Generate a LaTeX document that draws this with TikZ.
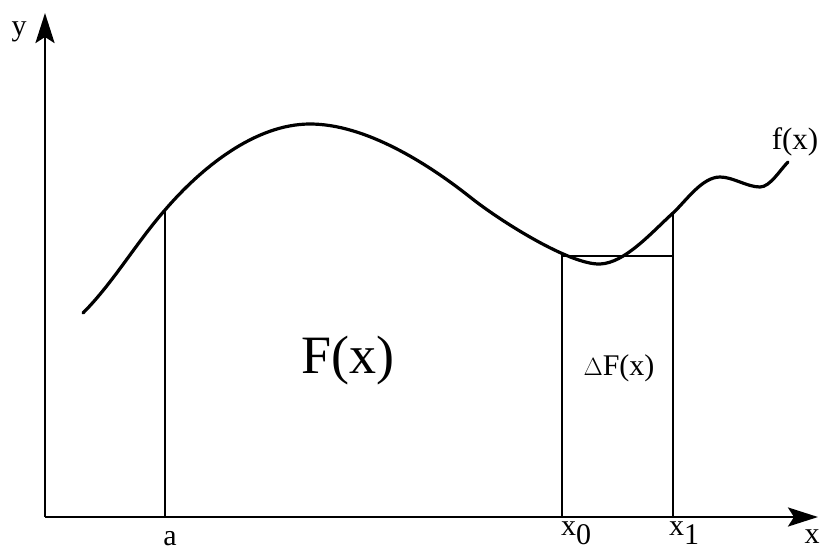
\documentclass[tikz,border=0pt]{standalone}
\usepackage{fontspec}
\setmainfont{Liberation Serif}
\usetikzlibrary{arrows.meta,positioning,calc}
\definecolor{inkBlack}{RGB}{0, 0, 0}

\tikzset{
  axisline/.style={draw=inkBlack, line width=2.8pt, -{Stealth[length=30pt, width=19pt, inset=6pt]}},
  curveline/.style={draw=inkBlack, line width=3.2pt, line cap=round},
  stripline/.style={draw=inkBlack, line width=1.4pt},
  axislabel/.style={inner sep=0pt, anchor=base, font=\fontsize{30pt}{32pt}\selectfont},
}

\begin{document}
\begin{tikzpicture}[x=1pt, y=-1pt]
  \useasboundingbox (0,0) rectangle (826,552);

  % axes
  \coordinate (orig) at (45,517);
  \coordinate (ytip) at (45,13);
  \coordinate (xtip) at (818,517);
  \draw[axisline] (orig) -- (ytip);
  \draw[axisline] (orig) -- (xtip);
  \node[axislabel] (ylab) at (19,35) {y};
  \node[axislabel] (xlab) at (812,543) {x};

  % the function
  \coordinate (fstart) at (83,313);
  \coordinate (fend) at (788,162);
  \draw[curveline] (fstart)
    .. controls (113,283) and (136,243) .. (165,210)
    .. controls (201,168) and (255,124) .. (310,124)
    .. controls (365,124) and (427,163) .. (470,197)
    .. controls (500,221) and (570,265) .. (600,264)
    .. controls (625,263) and (651,233) .. (673,213)
    .. controls (686,201) and (702,177) .. (720,177)
    .. controls (733,177) and (747,187) .. (760,187)
    .. controls (770,187) and (780,170) .. (fend);
  \node[inner sep=0pt, anchor=base, font=\fontsize{31pt}{32pt}\selectfont] (flab) at (795,149) {f(x)};

  % area strips
  \coordinate (abot) at (165,517);   \coordinate (atop) at (165,210);
  \coordinate (x0bot) at (562,517);  \coordinate (x0top) at (562,256);
  \coordinate (x1bot) at (673,517);  \coordinate (x1top) at (673,213);
  \coordinate (x1mid) at (673,256);
  \draw[stripline] (abot) -- (atop);
  \draw[stripline] (x0bot) -- (x0top) -- (x1mid);
  \draw[stripline] (x1bot) -- (x1top);

  \node[axislabel] (alab) at (170,545) {a};
  \node[axislabel, anchor=base west] (x0lab) at (561,535) {x\raisebox{-9pt}{0}};
  \node[axislabel, anchor=base west] (x1lab) at (669,535) {x\raisebox{-9pt}{1}};

  \node[inner sep=0pt, anchor=base, font=\fontsize{54pt}{56pt}\selectfont] (bigF) at (348,373) {F(x)};
  \node[inner sep=0pt, anchor=base, font=\fontsize{30pt}{32pt}\selectfont] (dF) at (619,375) {$\Delta$F(x)};
\end{tikzpicture}
\end{document}
